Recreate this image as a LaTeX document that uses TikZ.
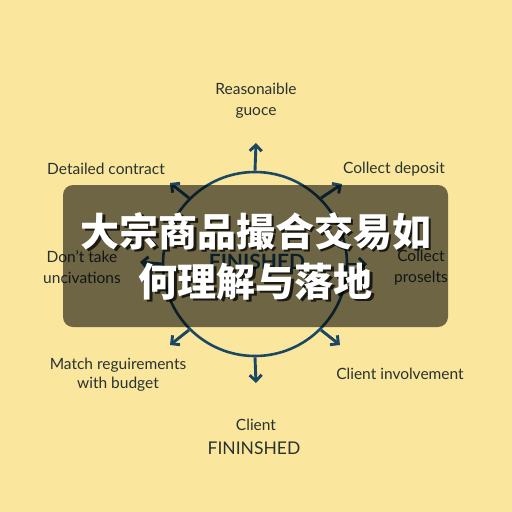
\documentclass[tikz,border=0pt]{standalone}
\usepackage{fontspec}
\setmainfont{Lato}
\newfontfamily\cjk{Noto Sans CJK SC}
\usetikzlibrary{arrows.meta, positioning}
\definecolor{paper}{HTML}{FAE69C}
\definecolor{ink}{HTML}{1A4764}
\definecolor{slate}{HTML}{28332F}

\begin{document}
\begin{tikzpicture}[x=1pt, y=-1pt, >={Straight Barb[length=6pt, width=12pt]},
  lbl/.style={text=slate, font=\fontsize{15.5}{21}\selectfont, align=center},
  spoke/.style={->, ink, line width=2.9pt}]

% Background
\fill[paper] (0,0) rectangle (512,512);

\node[circle, draw=ink, line width=2.6pt, minimum size=184pt] (ring) at (255,264) {};
\node[text=ink, font=\fontsize{21}{24}\selectfont\bfseries] (fin) at (257,262) {FINISHED};

\coordinate (tipN) at (256,143);
\coordinate (tipNW) at (170,183);
\coordinate (tipNE) at (342,184);
\coordinate (tipW) at (140,262);
\coordinate (tipE) at (367,264);
\coordinate (tipSW) at (170,345);
\coordinate (tipSE) at (340,345);
\coordinate (tipS) at (256,383);

\draw[spoke] (ring.north) -- (tipN);
\draw[spoke] (ring.north west) -- (tipNW);
\draw[spoke] (ring.north east) -- (tipNE);
\draw[spoke] (ring.west) -- (tipW);
\draw[spoke] (ring.east) -- (tipE);
\draw[spoke] (ring.south west) -- (tipSW);
\draw[spoke] (ring.south east) -- (tipSE);
\draw[spoke] (ring.south) -- (tipS);

% Labels
\node[lbl] (guide) at (256,101) {Reasonaible\\guoce};
\node[lbl] (contract) at (106,169) {Detailed contract};
\node[lbl] (deposit) at (394,169) {Collect deposit};
\node[lbl] (incent) at (82,267) {Don't take\\uncivations};
\node[lbl] (prosp) at (421,268) {Collect\\proselts};
\node[lbl, font=\fontsize{15.5}{19}\selectfont] (budget) at (118,375) {Match reguirements\\with budget};
\node[lbl] (involve) at (400,374) {Client involvement};
\node[lbl] (client) at (256,425) {Client};
\node[lbl, font=\fontsize{17.5}{20}\selectfont] (finish) at (254,448) {FININSHED};

% Banner
\node[fill=black, fill opacity=0.56, rounded corners=10pt,
      minimum width=385pt, minimum height=142pt] (banner) at (255.5,256) {};
\node[text=black, opacity=0.75, align=center,
      font=\cjk\bfseries\fontsize{39}{50}\selectfont] (shade) at (258.5,258.5)
  {大宗商品撮合交易如\\何理解与落地};
\node[text=white, align=center,
      font=\cjk\bfseries\fontsize{39}{50}\selectfont] (title) at (256,256)
  {大宗商品撮合交易如\\何理解与落地};

\end{tikzpicture}
\end{document}
